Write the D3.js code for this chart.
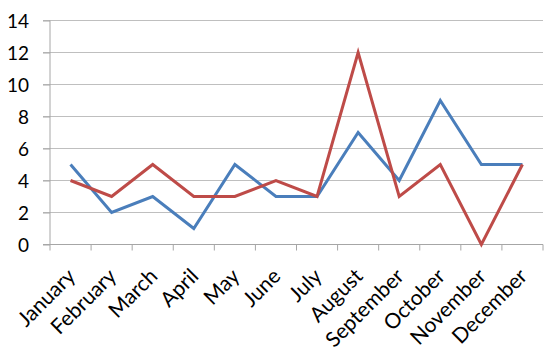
<!DOCTYPE html>
<html>
<head>
<meta charset="utf-8">
<script src="https://cdn.jsdelivr.net/npm/d3@7"></script>
<style>
  body { margin: 0; background: #fff; }
  text { font-family: Lato, "Open Sans", sans-serif; fill: #000; }
</style>
</head>
<body>
<div id="chart"></div>
<script>
// Data
var months = ["January", "February", "March", "April", "May", "June",
  "July", "August", "September", "October", "November", "December"];
var seriesBlue = [5, 2, 3, 1, 5, 3, 3, 7, 4, 9, 5, 5];
var seriesRed = [4, 3, 5, 3, 3, 4, 3, 12, 3, 5, 0, 5];
var yTicks = [0, 2, 4, 6, 8, 10, 12, 14];

// Set up chart
var svgWidth = 554;
var svgHeight = 352;
var margin = { top: 20.5, right: 11, bottom: 107.5, left: 50 };
var width = svgWidth - margin.left - margin.right;
var height = svgHeight - margin.top - margin.bottom;

var svg = d3.select("#chart")
  .append("svg")
  .attr("width", svgWidth)
  .attr("height", svgHeight);

var chartGroup = svg.append("g")
  .attr("transform", `translate(${margin.left}, ${margin.top})`);

// Scales
var xScale = d3.scaleBand()
  .domain(months)
  .range([0, width]);

var yScale = d3.scaleLinear()
  .domain([0, 14])
  .range([height, 0]);

// Gridlines
chartGroup.append("g")
  .selectAll("line")
  .data(yTicks.filter(d => d > 0))
  .enter()
  .append("line")
  .attr("x1", -7)
  .attr("x2", width)
  .attr("y1", d => yScale(d))
  .attr("y2", d => yScale(d))
  .attr("stroke", "#bfbfbf")
  .attr("stroke-width", 1.2);

// Y axis
var leftAxis = d3.axisLeft(yScale)
  .tickValues(yTicks)
  .tickSize(7)
  .tickPadding(14);

var yAxis = chartGroup.append("g").call(leftAxis);
yAxis.select(".domain").attr("stroke", "#a6a6a6").attr("d", `M0,${height}V0`);
yAxis.selectAll(".tick line").attr("stroke", "#a6a6a6");
yAxis.selectAll("text").attr("font-size", 19).attr("dy", "0.36em");

// X axis
var bottomAxis = d3.axisBottom(xScale)
  .tickSize(0)
  .tickFormat("");

var xAxis = chartGroup.append("g")
  .attr("transform", `translate(0, ${height})`)
  .call(bottomAxis);
xAxis.select(".domain").attr("stroke", "#a6a6a6").attr("d", `M-7,0H${width}`);

// x tick marks on band edges
xAxis.append("g")
  .selectAll("line")
  .data(months.concat(["end"]))
  .enter()
  .append("line")
  .attr("x1", (d, i) => i * xScale.step())
  .attr("x2", (d, i) => i * xScale.step())
  .attr("y1", 0)
  .attr("y2", 6)
  .attr("stroke", "#a6a6a6");

// rotated month labels
xAxis.append("g")
  .selectAll("text")
  .data(months)
  .enter()
  .append("text")
  .attr("transform", d => `translate(${xScale(d) + xScale.bandwidth() / 2 + 6}, 33) rotate(-45)`)
  .attr("text-anchor", "end")
  .attr("font-size", 21)
  .text(d => d);

// Lines
var line = d3.line()
  .x((d, i) => xScale(months[i]) + xScale.bandwidth() / 2)
  .y(d => yScale(d));

chartGroup.append("path")
  .datum(seriesBlue)
  .attr("fill", "none")
  .attr("stroke", "#4a7ebb")
  .attr("stroke-width", 3)
  .attr("stroke-linejoin", "miter")
  .attr("d", line);

chartGroup.append("path")
  .datum(seriesRed)
  .attr("fill", "none")
  .attr("stroke", "#be4b48")
  .attr("stroke-width", 3)
  .attr("stroke-linejoin", "miter")
  .attr("d", line);
</script>
</body>
</html>
